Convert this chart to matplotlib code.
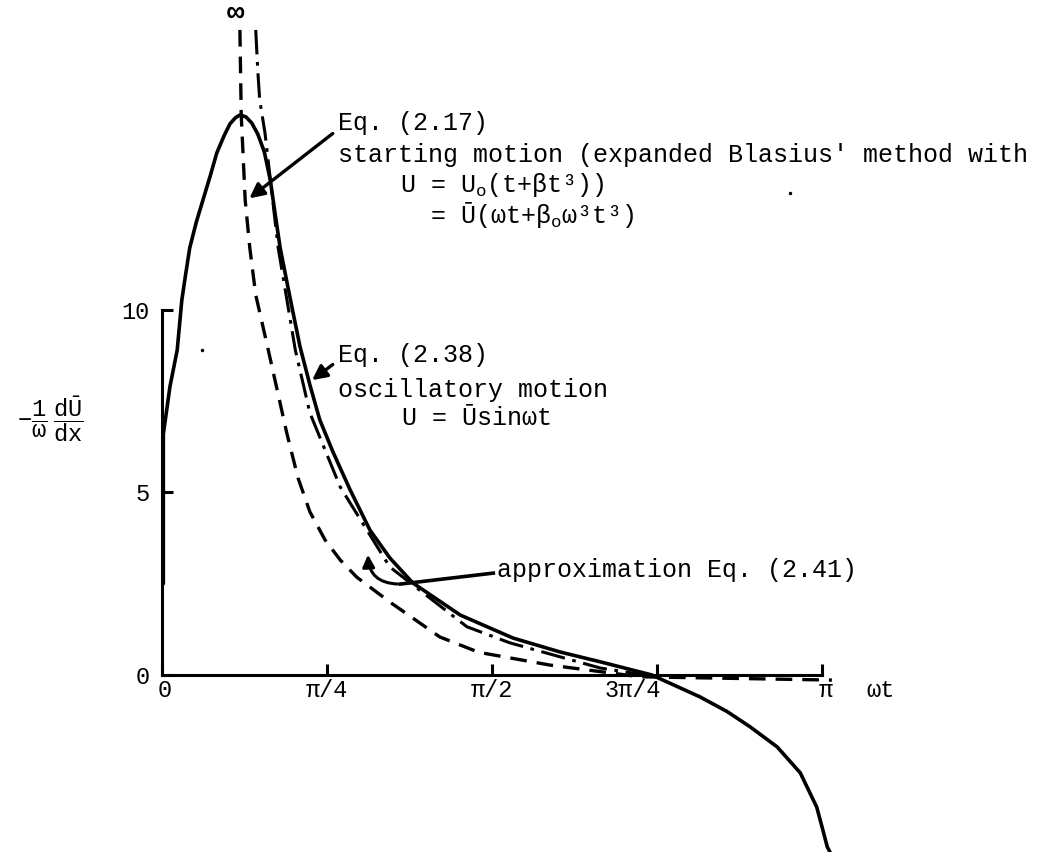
import numpy as np
import matplotlib
matplotlib.use('Agg')
import matplotlib.pyplot as plt
from matplotlib.patches import FancyArrowPatch

# typewriter look of the original
plt.rcParams['font.family'] = ['Liberation Mono', 'DejaVu Sans Mono', 'DejaVu Sans']
plt.rcParams['mathtext.fontset'] = 'custom'
plt.rcParams['mathtext.rm'] = 'Liberation Mono'
plt.rcParams['mathtext.it'] = 'Liberation Mono'
plt.rcParams['mathtext.bf'] = 'Liberation Mono:bold'

# wt in units of pi
osc_x = [0.002, 0.002, 0.012, 0.023, 0.030, 0.036, 0.042, 0.052, 0.062, 0.073, 0.083,
         0.094, 0.103, 0.111, 0.118, 0.127, 0.136, 0.145, 0.155, 0.164, 0.171, 0.179,
         0.194, 0.209, 0.224, 0.239, 0.259, 0.285, 0.315, 0.345, 0.380, 0.452, 0.532,
         0.603, 0.664, 0.742, 0.815, 0.856, 0.891, 0.932, 0.967, 0.992, 1.000, 1.008,
         1.012]
osc_y = [2.5, 6.6, 7.9, 8.9, 10.27, 11.0, 11.70, 12.41, 13.01, 13.67, 14.30,
         14.77, 15.10, 15.26, 15.34, 15.29, 15.12, 14.82, 14.33, 13.56, 12.68, 11.70,
         10.33, 9.0, 7.95, 6.99, 6.11, 5.07, 3.97, 3.21, 2.52, 1.64, 1.01,
         0.63, 0.36, 0.0, -0.60, -1.0, -1.42, -1.97, -2.68, -3.62, -4.16, -4.71,
         -4.85]

start_x = [0.118, 0.120, 0.126, 0.133, 0.142, 0.161, 0.189, 0.206, 0.224, 0.247, 0.270,
           0.295, 0.345, 0.421, 0.480, 0.588, 0.724, 1.015]
start_y = [17.67, 15.34, 13.01, 11.70, 10.41, 8.9, 6.63, 5.40, 4.47, 3.70, 3.15,
           2.68, 2.00, 1.04, 0.62, 0.27, -0.05, -0.14]

approx_x = [0.142, 0.145, 0.148, 0.156, 0.176, 0.202, 0.224, 0.270, 0.345, 0.462,
            0.527, 0.664, 0.742]
approx_y = [17.67, 16.58, 15.75, 14.85, 11.70, 8.9, 7.18, 5.15, 2.96, 1.32,
            0.88, 0.19, -0.03]

xticks = [0, 0.25, 0.5, 0.75, 1.0]
xticklabels = ['0', 'π/4', 'π/2', '3π/4', 'π']
xlabel_pos = [0.004, 0.25, 0.5, 0.714, 1.006]
yticks = [0, 5, 10]

P = np.pi
fig = plt.figure(figsize=(10.59, 8.52), dpi=100)
ax = fig.add_axes([0, 0, 1, 1])
ax.set_xlim(-0.2455 * P, 1.3591 * P)
ax.set_ylim(-4.85, 18.49)

ax.plot(np.array(osc_x) * P, osc_y, color='k', lw=2.6, solid_capstyle='round',
        solid_joinstyle='round')
ax.plot(np.array(start_x) * P, start_y, color='k', lw=2.4, dashes=(5, 3))
ax.plot(np.array(approx_x) * P, approx_y, color='k', lw=2.2, dashes=(8, 2.5, 1.2, 2.5))

# axes
for s in ['top', 'right']:
    ax.spines[s].set_visible(False)
ax.spines['left'].set_position(('data', 0))
ax.spines['bottom'].set_position(('data', 0))
ax.spines['left'].set_bounds(0, 10)
ax.spines['bottom'].set_bounds(0, P)
ax.spines['left'].set_linewidth(2.2)
ax.spines['bottom'].set_linewidth(2.2)
ax.set_xticks(np.array(xticks) * P)
ax.set_xticklabels([''] * len(xticks))
ax.set_yticks(yticks)
ax.tick_params(direction='in', length=8, width=2.2, labelsize=17)
ax.tick_params(axis='y', pad=9)
for xp, lab in zip(xlabel_pos, xticklabels):
    ax.text(xp * P, -0.42, lab, fontsize=17, ha='center', va='center')

ax.text(1.088 * P, -0.42, 'ωt', fontsize=17, ha='center', va='center')
ax.text(0.111 * P, 18.14, '∞', fontsize=21, ha='center', va='center', fontweight='bold')
ax.text(-0.17 * P, 7.0, r'$-\dfrac{1}{\omega}\ \dfrac{d\bar{U}}{dx}$', fontsize=17,
        ha='center', va='center')

# Eq. (2.17)
fs = 18
ax.annotate('', xy=(0.129 * P, 13.01), xytext=(0.262 * P, 14.88),
            arrowprops=dict(arrowstyle='-|>', color='k', lw=2.4, mutation_scale=22))
ax.text(0.267 * P, 15.12, 'Eq. (2.17)', fontsize=fs, va='center')
ax.text(0.267 * P, 14.25, "starting motion (expanded Blasius' method with", fontsize=fs,
        va='center')
ax.text(0.361 * P, 13.42, r'U = U$_\mathrm{o}$(t+βt³))', fontsize=fs, va='center')
ax.text(0.406 * P, 12.60, r'= Ū(ωt+β$_\mathrm{o}$ω³t³)', fontsize=fs, va='center')

# Eq. (2.38)
ax.annotate('', xy=(0.224 * P, 8.03), xytext=(0.262 * P, 8.55),
            arrowprops=dict(arrowstyle='-|>', color='k', lw=2.4, mutation_scale=22))
ax.text(0.267 * P, 8.77, 'Eq. (2.38)', fontsize=fs, va='center')
ax.text(0.267 * P, 7.81, 'oscillatory motion', fontsize=fs, va='center')
ax.text(0.364 * P, 7.04, 'U = Ūsinωt', fontsize=fs, va='center')

# approximation Eq. (2.41)
ax.plot([0.502 * P, 0.361 * P], [2.79, 2.49], color='k', lw=2.6)
ax.add_patch(FancyArrowPatch((0.361 * P, 2.49), (0.312 * P, 3.37),
                             connectionstyle='arc3,rad=-0.5', arrowstyle='-|>',
                             color='k', lw=2.2, mutation_scale=18))
ax.text(0.508 * P, 2.88, 'approximation Eq. (2.41)', fontsize=fs, va='center')

# stray dots from the scan
ax.plot([0.952 * P], [13.21], 'k.', ms=3)
ax.plot([0.061 * P], [8.9], 'k.', ms=3)

fig.savefig('out.png', dpi=100)
